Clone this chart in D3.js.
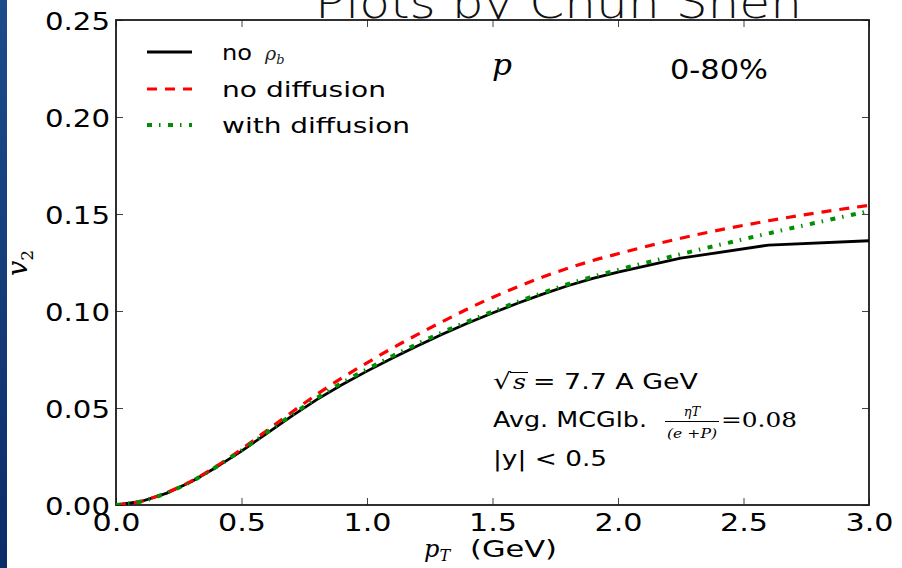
<!DOCTYPE html>
<html>
<head>
<meta charset="utf-8">
<script src="https://cdn.jsdelivr.net/npm/d3@7"></script>
<style>
  html, body { margin: 0; padding: 0; background: #ffffff; }
  svg { display: block; }
</style>
</head>
<body>
<svg id="chart" width="902" height="568"></svg>
<script>
// ---------------- data ----------------
const pT = [0, 0.1, 0.2, 0.3, 0.4, 0.5, 0.6, 0.7, 0.8, 0.9, 1.0, 1.1, 1.2, 1.3, 1.4, 1.5,
            1.6, 1.7, 1.8, 1.9, 2.0, 2.25, 2.6, 3.0];
const v2NoRhoB = [0, 0.0018, 0.0060, 0.0120, 0.0195, 0.0278, 0.0368, 0.0458, 0.0543, 0.0620,
                  0.0690, 0.0757, 0.0820, 0.0880, 0.0937, 0.0990, 0.1040, 0.1087, 0.1130, 0.1168,
                  0.1200, 0.1272, 0.1340, 0.1362];
const v2NoDiffusion = [0, 0.0019, 0.0063, 0.0123, 0.0200, 0.0288, 0.0383, 0.0478, 0.0570, 0.0655,
                       0.0733, 0.0808, 0.0878, 0.0945, 0.1010, 0.1070, 0.1125, 0.1175, 0.1220, 0.1260,
                       0.1295, 0.1375, 0.1465, 0.1545];
const v2WithDiffusion = [0, 0.0018, 0.0061, 0.0121, 0.0197, 0.0282, 0.0373, 0.0464, 0.0551, 0.0630,
                         0.0700, 0.0767, 0.0830, 0.0890, 0.0945, 0.0997, 0.1047, 0.1094, 0.1138, 0.1177,
                         0.1212, 0.1293, 0.1400, 0.1515];
const xTicks = [0, 0.5, 1.0, 1.5, 2.0, 2.5, 3.0];
const yTicks = [0, 0.05, 0.10, 0.15, 0.20, 0.25];
const seriesNames = ["no ", "no diffusion", "with diffusion"];

// ---------------- layout ----------------
const svg = d3.select("#chart");
const L = 116, R = 869, T = 20, B = 505;
const x = d3.scaleLinear().domain([0, 3]).range([L, R]);
const y = d3.scaleLinear().domain([0, 0.25]).range([B, T]);

// slide background strip on the left
const defs = svg.append("defs");
const grad = defs.append("linearGradient").attr("id", "blue").attr("x1", 0).attr("y1", 0).attr("x2", 0).attr("y2", 1);
grad.append("stop").attr("offset", "0%").attr("stop-color", "#1d4c8a");
grad.append("stop").attr("offset", "100%").attr("stop-color", "#0b2c69");
svg.append("rect").attr("x", 0).attr("y", 0).attr("width", 7).attr("height", 568).attr("fill", "url(#blue)");

defs.append("clipPath").attr("id", "plotclip")
  .append("rect").attr("x", L).attr("y", T).attr("width", R - L).attr("height", B - T);

// slide title (cut at the top of the picture, as in the reference)
svg.append("text")
  .attr("x", 315).attr("y", 18)
  .attr("font-family", "'DejaVu Sans', 'Open Sans', sans-serif")
  .attr("font-weight", 200)
  .attr("font-size", 44)
  .attr("textLength", 487).attr("lengthAdjust", "spacingAndGlyphs")
  .attr("fill", "#111")
  .text("Plots by Chun Shen");

// plot background
svg.append("rect").attr("x", L).attr("y", T).attr("width", R - L).attr("height", B - T).attr("fill", "#fff");

// ---------------- axes ----------------
function styleAxis(g) {
  g.select(".domain").remove();
  g.selectAll(".tick line").attr("stroke", "#444").attr("stroke-width", 1);
}
const gx = svg.append("g").attr("transform", `translate(0,${B})`)
  .call(d3.axisBottom(x).tickValues(xTicks).tickFormat(d3.format(".1f")).tickSize(-7).tickSizeOuter(0));
styleAxis(gx);
gx.selectAll(".tick text")
  .attr("y", 26).attr("dy", null)
  .attr("font-family", "'DejaVu Sans', sans-serif").attr("font-size", 25)
  .attr("fill", "#000")
  .attr("textLength", 48).attr("lengthAdjust", "spacingAndGlyphs");

const gxt = svg.append("g").attr("transform", `translate(0,${T})`)
  .call(d3.axisTop(x).tickValues(xTicks).tickFormat("").tickSize(-7).tickSizeOuter(0));
styleAxis(gxt);

const gy = svg.append("g").attr("transform", `translate(${L},0)`)
  .call(d3.axisLeft(y).tickValues(yTicks).tickFormat(d3.format(".2f")).tickSize(-7).tickSizeOuter(0));
styleAxis(gy);
gy.selectAll(".tick text")
  .attr("x", -6).attr("y", 9).attr("dy", null)
  .attr("font-family", "'DejaVu Sans', sans-serif").attr("font-size", 25)
  .attr("fill", "#000")
  .attr("textLength", 65).attr("lengthAdjust", "spacingAndGlyphs");

const gyr = svg.append("g").attr("transform", `translate(${R},0)`)
  .call(d3.axisRight(y).tickValues(yTicks).tickFormat("").tickSize(-7).tickSizeOuter(0));
styleAxis(gyr);

// spines
svg.append("rect").attr("x", L).attr("y", T).attr("width", R - L).attr("height", B - T)
  .attr("fill", "none").attr("stroke", "#1a1a1a").attr("stroke-width", 1.8);

// ---------------- curves ----------------
const styles = [
  { vals: v2NoRhoB, color: "#000000", width: 2.8, dash: null, curve: d3.curveLinear },
  { vals: v2NoDiffusion, color: "#ff0000", width: 3.2, dash: "10,8", curve: d3.curveMonotoneX },
  { vals: v2WithDiffusion, color: "#008f00", width: 4, dash: "5,7,1.5,7.5", curve: d3.curveMonotoneX }
];
const plot = svg.append("g").attr("clip-path", "url(#plotclip)");
styles.forEach(s => {
  const line = d3.line().x((d, i) => x(pT[i])).y(d => y(d)).curve(s.curve);
  plot.append("path").datum(s.vals)
    .attr("d", line)
    .attr("fill", "none")
    .attr("stroke", s.color)
    .attr("stroke-width", s.width)
    .attr("stroke-dasharray", s.dash)
    .attr("stroke-linejoin", "round");
});

// ---------------- legend ----------------
const legY = [52, 89, 125];
const legW = [30, 164, 188];
styles.forEach((s, i) => {
  svg.append("line")
    .attr("x1", 147).attr("x2", 192).attr("y1", legY[i]).attr("y2", legY[i])
    .attr("stroke", s.color).attr("stroke-width", s.width)
    .attr("stroke-dasharray", s.dash);
  const t = svg.append("text")
    .attr("x", 222).attr("y", legY[i] + 8)
    .attr("font-family", "'DejaVu Sans', sans-serif").attr("font-size", 22)
    .attr("fill", "#000");
  if (i === 0) {
    t.attr("textLength", legW[0]).attr("lengthAdjust", "spacingAndGlyphs").text("no");
    svg.append("text").attr("x", 265).attr("y", legY[i] + 8)
      .attr("font-family", "'DejaVu Serif', serif").attr("font-style", "italic").attr("font-size", 19)
      .attr("fill", "#222")
      .text("ρ")
      .append("tspan").attr("font-size", 13).attr("dy", 4).text("b");
  } else {
    t.attr("textLength", legW[i]).attr("lengthAdjust", "spacingAndGlyphs").text(seriesNames[i]);
  }
});

// ---------------- annotations ----------------
svg.append("text").attr("x", 492).attr("y", 75)
  .attr("font-family", "'DejaVu Serif', serif").attr("font-style", "italic").attr("font-size", 30)
  .attr("textLength", 20).attr("lengthAdjust", "spacingAndGlyphs")
  .attr("fill", "#000").text("p");

svg.append("text").attr("x", 670).attr("y", 79)
  .attr("font-family", "'DejaVu Sans', sans-serif").attr("font-size", 27)
  .attr("textLength", 98).attr("lengthAdjust", "spacingAndGlyphs")
  .attr("fill", "#000").text("0-80%");

// line 1: sqrt(s) = 7.7 A GeV
svg.append("text").attr("x", 493).attr("y", 389)
  .attr("font-family", "'DejaVu Serif', serif").attr("font-size", 22)
  .attr("textLength", 18).attr("lengthAdjust", "spacingAndGlyphs")
  .attr("fill", "#000").text("√");
svg.append("line").attr("x1", 510).attr("x2", 528).attr("y1", 372.5).attr("y2", 372.5)
  .attr("stroke", "#000").attr("stroke-width", 1);
svg.append("text").attr("x", 513).attr("y", 389)
  .attr("font-family", "'DejaVu Serif', serif").attr("font-style", "italic").attr("font-size", 20)
  .attr("textLength", 13).attr("lengthAdjust", "spacingAndGlyphs")
  .attr("fill", "#000").text("s");
svg.append("text").attr("x", 533).attr("y", 389)
  .attr("font-family", "'DejaVu Sans', sans-serif").attr("font-size", 21)
  .attr("textLength", 165).attr("lengthAdjust", "spacingAndGlyphs")
  .attr("fill", "#000").text("= 7.7 A GeV");

// line 2: Avg. MCGlb. ηT/(e+P) = 0.08
svg.append("text").attr("x", 493).attr("y", 427)
  .attr("font-family", "'DejaVu Sans', sans-serif").attr("font-size", 21)
  .attr("textLength", 154).attr("lengthAdjust", "spacingAndGlyphs")
  .attr("fill", "#000").text("Avg. MCGlb.");
svg.append("text").attr("x", 692).attr("y", 416).attr("text-anchor", "middle")
  .attr("font-family", "'DejaVu Serif', serif").attr("font-style", "italic").attr("font-size", 13)
  .attr("fill", "#000").text("ηT");
svg.append("line").attr("x1", 665).attr("x2", 719).attr("y1", 421.5).attr("y2", 421.5)
  .attr("stroke", "#000").attr("stroke-width", 1);
svg.append("text").attr("x", 692).attr("y", 438).attr("text-anchor", "middle")
  .attr("font-family", "'DejaVu Serif', serif").attr("font-style", "italic").attr("font-size", 13)
  .attr("textLength", 50).attr("lengthAdjust", "spacingAndGlyphs")
  .attr("fill", "#000").text("(e +P)");
svg.append("text").attr("x", 721).attr("y", 427)
  .attr("font-family", "'DejaVu Serif', serif").attr("font-size", 20)
  .attr("textLength", 76).attr("lengthAdjust", "spacingAndGlyphs")
  .attr("fill", "#000").text("=0.08");

// line 3: |y| < 0.5
svg.append("text").attr("x", 493).attr("y", 466)
  .attr("font-family", "'DejaVu Sans', sans-serif").attr("font-size", 21)
  .attr("textLength", 114).attr("lengthAdjust", "spacingAndGlyphs")
  .attr("fill", "#000").text("|y| < 0.5");

// ---------------- axis titles ----------------
svg.append("text").attr("x", 424).attr("y", 557)
  .attr("font-family", "'DejaVu Serif', serif").attr("font-style", "italic").attr("font-size", 24)
  .attr("fill", "#000")
  .text("p")
  .append("tspan").attr("font-size", 16).attr("dy", 4).text("T");
svg.append("text").attr("x", 470).attr("y", 557)
  .attr("font-family", "'DejaVu Sans', sans-serif").attr("font-size", 23)
  .attr("textLength", 87).attr("lengthAdjust", "spacingAndGlyphs")
  .attr("fill", "#000").text("(GeV)");

svg.append("text").attr("transform", "translate(27,276) rotate(-90)")
  .attr("font-family", "'DejaVu Serif', serif").attr("font-style", "italic").attr("font-size", 27)
  .attr("fill", "#000")
  .text("v")
  .append("tspan").attr("font-size", 17).attr("font-style", "normal").attr("dy", 6).text("2");
</script>
</body>
</html>
